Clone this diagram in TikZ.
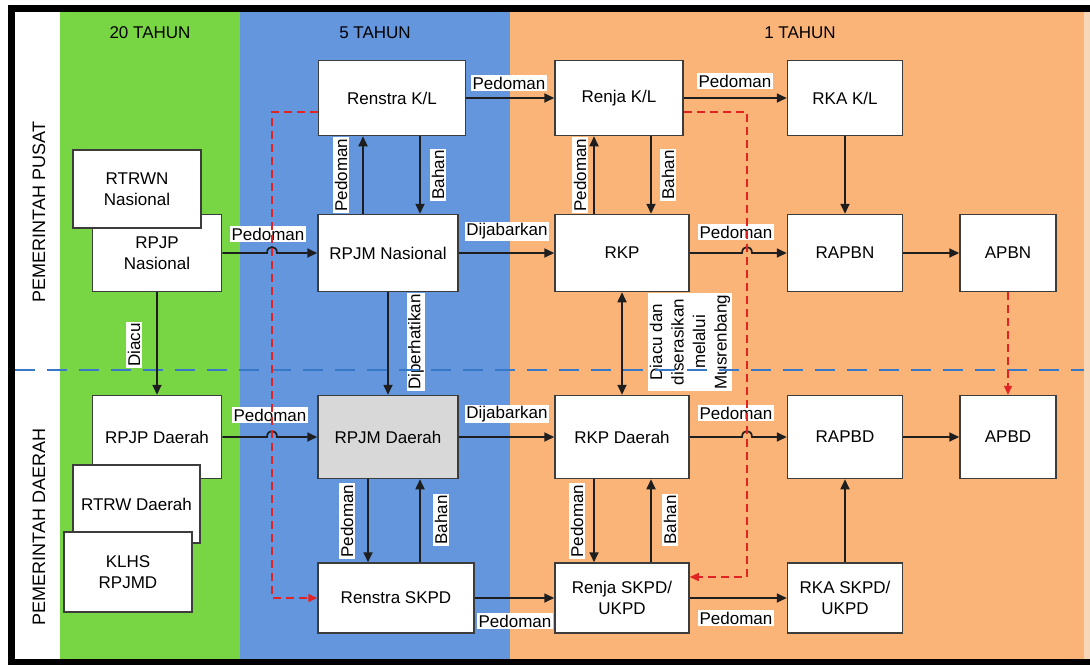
\documentclass[tikz,border=0pt]{standalone}
\usepackage{fontspec}
\setmainfont{Liberation Sans}
\usetikzlibrary{arrows.meta,calc}
\definecolor{cgreen}{RGB}{120,214,68}
\definecolor{cblue}{RGB}{100,150,222}
\definecolor{corange}{RGB}{250,180,120}
\definecolor{cedge}{RGB}{246,216,184}
\definecolor{cline}{RGB}{30,30,30}
\definecolor{cred}{RGB}{225,35,35}
\definecolor{cdash}{RGB}{55,120,200}
\definecolor{cbord}{RGB}{60,60,60}
\definecolor{cgrey}{RGB}{216,216,216}
\begin{document}
\begin{tikzpicture}[x=1pt,y=-1pt,
  box/.style={draw=cbord,line width=1.5pt,fill=white,align=center,inner sep=2pt,font=\fontsize{17}{21}\selectfont},
  lab/.style={fill=white,inner sep=1.5pt,font=\fontsize{17}{21}\selectfont},
  vlab/.style={lab,rotate=90},
  hdr/.style={font=\fontsize{17}{21}\selectfont},
  side/.style={rotate=90,font=\fontsize{18}{21}\selectfont},
  arr/.style={draw=cline,line width=1.7pt,-{Triangle[length=10pt,width=9pt]}},
  darr/.style={draw=cline,line width=1.7pt,{Triangle[length=10pt,width=9pt]}-{Triangle[length=10pt,width=9pt]}},
  rdash/.style={draw=cred,line width=1.4pt,dash pattern=on 8pt off 5pt,-{Triangle[length=9pt,width=8pt]}},
]
\useasboundingbox (0,0) rectangle (1090,665);
% background and frame
\fill[white] (0,0) rectangle (1090,665);
\fill[black] (8,5) rectangle (1090,665);
\fill[white] (15,12) rectangle (1084,659);
\fill[cgreen] (60,12) rectangle (240,659);
\fill[cblue] (240,12) rectangle (510,659);
\fill[corange] (510,12) rectangle (1084,659);
\fill[cedge] (1084,12) rectangle (1090,659);

% headers and side titles
\node[hdr] (h20) at (150,33) {20 TAHUN};
\node[hdr] (h5) at (375,33) {5 TAHUN};
\node[hdr] (h1) at (800,33) {1 TAHUN};
\node[side] (pusat) at (39,212) {PEMERINTAH PUSAT};
\node[side] (daerah) at (39,527) {PEMERINTAH DAERAH};

% connector labels
\node[lab] (lp1) at (509,83) {Pedoman};
\node[lab] (lp2) at (735,81) {Pedoman};
\node[lab] (lp3) at (268,234) {Pedoman};
\node[lab] (ld1) at (507,231.5) {Dijabarkan};
\node[lab] (lp4) at (736,232) {Pedoman};
\node[lab] (lp5) at (270,415) {Pedoman};
\node[lab] (ld2) at (507,414) {Dijabarkan};
\node[lab] (lp6) at (736,413) {Pedoman};
\node[lab] (lp7) at (515,621) {Pedoman};
\node[lab] (lp8) at (736,618) {Pedoman};
\node[vlab] (vp1) at (341,175) {Pedoman};
\node[vlab] (vb1) at (438,175) {Bahan};
\node[vlab] (vp2) at (580,175) {Pedoman};
\node[vlab] (vb2) at (668,175) {Bahan};
\node[vlab] (vp3) at (347,521) {Pedoman};
\node[vlab] (vb3) at (441,520) {Bahan};
\node[vlab] (vp4) at (577,521) {Pedoman};
\node[vlab] (vb4) at (670,520) {Bahan};
\node[vlab] (vdiacu) at (134,345) {Diacu};
\node[vlab] (vdiper) at (416,342) {Diperhatikan};
\node[vlab,align=center,font=\fontsize{17}{21.5}\selectfont] (vmus) at (690,342) {Diacu dan\\diserasikan\\melalui\\Musrenbang};

% separator
\draw[cdash,line width=2.5pt,dash pattern=on 20pt off 12pt] (15,370) -- (1084,370);

% boxes
\node[box,minimum width=147pt,minimum height=75pt] (renstrakl) at (392,98) {Renstra K/L};
\node[box,minimum width=128pt,minimum height=75pt] (renjakl) at (619,98) {Renja K/L};
\node[box,minimum width=115pt,minimum height=75pt] (rkakl) at (845,98) {RKA K/L};
\node[box,minimum width=129pt,minimum height=77pt] (rpjpn) at (157,253) {RPJP\\Nasional};
\node[box,minimum width=128pt,minimum height=78pt] (rtrwn) at (137,189) {RTRWN\\Nasional};
\node[box,minimum width=140pt,minimum height=77pt] (rpjmn) at (388,253) {RPJM Nasional};
\node[box,minimum width=134pt,minimum height=77pt] (rkp) at (622,253) {RKP};
\node[box,minimum width=115pt,minimum height=77pt] (rapbn) at (845,253) {RAPBN};
\node[box,minimum width=96pt,minimum height=77pt] (apbn) at (1008,253) {APBN};
\node[box,minimum width=129pt,minimum height=83pt] (rpjpd) at (157,437) {RPJP Daerah};
\node[box,minimum width=127pt,minimum height=78pt] (rtrwd) at (136.5,504) {RTRW Daerah};
\node[box,minimum width=128pt,minimum height=80pt] (klhs) at (128,572) {KLHS\\RPJMD};
\node[box,fill=cgrey,minimum width=140pt,minimum height=83pt] (rpjmd) at (388,437) {RPJM Daerah};
\node[box,minimum width=134pt,minimum height=83pt] (rkpd) at (622,437) {RKP Daerah};
\node[box,minimum width=115pt,minimum height=83pt] (rapbd) at (845,437) {RAPBD};
\node[box,minimum width=96pt,minimum height=83pt] (apbd) at (1008,437) {APBD};
\node[box,minimum width=156pt,minimum height=70pt] (renstraskpd) at (396,598) {Renstra SKPD};
\node[box,minimum width=134pt,minimum height=70pt] (renjaskpd) at (622,598) {Renja SKPD/\\UKPD};
\node[box,minimum width=115pt,minimum height=70pt] (rkaskpd) at (845,598) {RKA SKPD/\\UKPD};

% red dashed route corners and hop points
\coordinate (rl) at (272,598);
\coordinate (rr) at (747,577);
\coordinate (hA) at (rpjpn.east -| rl);
\coordinate (hB) at (rkp.east -| rr);
\coordinate (hC) at (rpjpd.east -| rl);
\coordinate (hD) at (rkpd.east -| rr);

% connectors, upper half
\draw[arr] (renstrakl) -- (renjakl);
\draw[arr] (renjakl) -- (rkakl);
\draw[arr] ([xshift=-25]rpjmn.north) -- ([xshift=-25]rpjmn.north |- renstrakl.south);
\draw[arr] ([xshift=32]rpjmn.north |- renstrakl.south) -- ([xshift=32]rpjmn.north);
\draw[arr] (rpjpn.east) -- ([xshift=-5]hA) .. controls ([xshift=-5,yshift=8]hA) and ([xshift=5,yshift=8]hA) .. ([xshift=5]hA) -- (rpjmn.west);
\draw[arr] (rpjmn) -- (rkp);
\draw[arr] ([xshift=-28]rkp.north) -- ([xshift=-28]rkp.north |- renjakl.south);
\draw[arr] ([xshift=29]rkp.north |- renjakl.south) -- ([xshift=29]rkp.north);
\draw[arr] (rkp.east) -- ([xshift=-5]hB) .. controls ([xshift=-5,yshift=8]hB) and ([xshift=5,yshift=8]hB) .. ([xshift=5]hB) -- (rapbn.west);
\draw[arr] (rkakl) -- (rapbn);
\draw[arr] (rapbn) -- (apbn);
% between levels
\draw[arr] (rpjpn.south) -- (rpjpn.south |- rpjpd.north);
\draw[arr] (rpjmn) -- (rpjmd);
\draw[darr] (rkp) -- (rkpd);
% lower half
\draw[arr] (rpjpd.east) -- ([xshift=-5]hC) .. controls ([xshift=-5,yshift=8]hC) and ([xshift=5,yshift=8]hC) .. ([xshift=5]hC) -- (rpjmd.west);
\draw[arr] (rpjmd) -- (rkpd);
\draw[arr] (rkpd.east) -- ([xshift=-5]hD) .. controls ([xshift=-5,yshift=8]hD) and ([xshift=5,yshift=8]hD) .. ([xshift=5]hD) -- (rapbd.west);
\draw[arr] (rapbd) -- (apbd);
\draw[arr] ([xshift=-20]rpjmd.south) -- ([xshift=-20]rpjmd.south |- renstraskpd.north);
\draw[arr] ([xshift=32]rpjmd.south |- renstraskpd.north) -- ([xshift=32]rpjmd.south);
\draw[arr] (renstraskpd) -- (renjaskpd);
\draw[arr] ([xshift=-28]rkpd.south) -- ([xshift=-28]rkpd.south |- renjaskpd.north);
\draw[arr] ([xshift=29]rkpd.south |- renjaskpd.north) -- ([xshift=29]rkpd.south);
\draw[arr] (renjaskpd) -- (rkaskpd);
\draw[arr] (rkaskpd) -- (rapbd);

% red dashed connectors
\draw[rdash] ([yshift=-14]renstrakl.west) -| (rl) -- (renstraskpd.west);
\draw[rdash] ([yshift=-14]renjakl.east) -| (rr) -- (rr -| renjaskpd.east);
\draw[rdash] (apbn.south) -- (apbd.north);
\end{tikzpicture}
\end{document}
